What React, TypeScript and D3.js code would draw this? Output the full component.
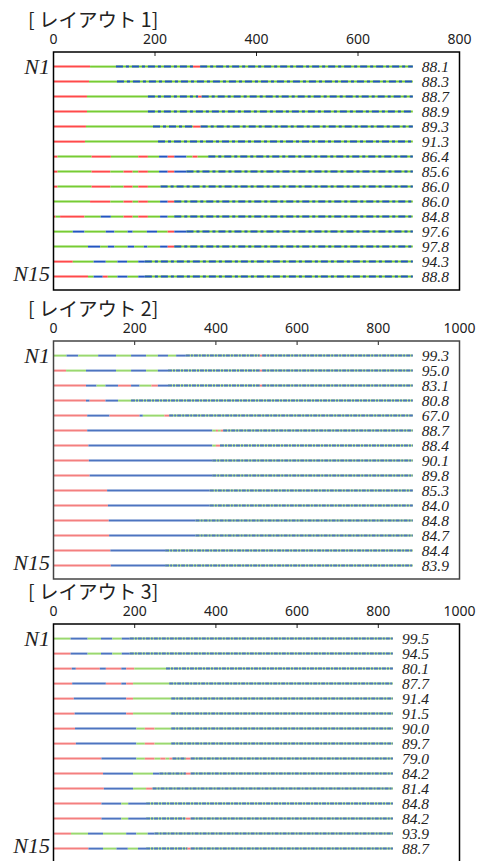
import React from 'react';
import * as d3 from 'd3';

// each row: colour letter + end position (R red, G green, B blue, M mixed green/blue)
const layout1Rows = [
  'R72 G123 M275 R289 M708',
  'R70 G125 M708',
  'R66 G186 M285 R292 M708',
  'R66 G186 M708',
  'R64 G196 M275 R290 M708',
  'R62 G206 M708',
  'R8 G75 R113 G167 R186 G208 B225 R238 B262 G274 R284 G305 M708',
  'R8 G75 R112 G138 R156 G167 R186 G208 B225 R238 B262 M708',
  'R8 G75 R112 G138 R156 G167 R186 G211 M708',
  'G72 R112 G138 R156 G167 R186 G210 B225 R238 M708',
  'R4 G13 R61 G93 B113 G138 R156 G167 R186 G210 B225 G238 M708',
  'G38 B61 G103 B120 G146 B156 G184 B204 G225 R238 B262 M708',
  'G68 B92 G107 B120 G146 B159 G178 B185 G210 B225 R238 M708',
  'R38 G79 B103 G126 B145 G167 B180 M708',
  'R68 G79 B97 R107 G126 B146 G167 B180 M708'
];
const layout1Values = [88.1, 88.3, 88.7, 88.9, 89.3, 91.3, 86.4, 85.6, 86.0, 86.0, 84.8, 97.6, 97.8, 94.3, 88.8];

const layout2Rows = [
  'G32 B61 G110 B154 G191 B228 G257 B282 G302 B326 M508 R514 M885',
  'R31 G80 B154 G191 B228 G257 B282 M508 R514 M885',
  'R80 B106 G128 B159 R191 B212 G241 R257 B282 M508 R514 M885',
  'R80 B89 R128 B159 G191 M885',
  'R83 B138 R212 B220 G273 R285 M885',
  'R83 B391 G400 R405 G412 R418 M885',
  'R86 B391 G400 R410 M885',
  'R87 B391 M885',
  'R89 B391 M885',
  'R132 B385 M885',
  'R134 B385 M885',
  'R136 B350 M885',
  'R137 B350 M885',
  'R140 B275 M885',
  'R141 B275 M885'
];
const layout2Values = [99.3, 95.0, 83.1, 80.8, 67.0, 88.7, 88.4, 90.1, 89.8, 85.3, 84.0, 84.8, 84.7, 84.4, 83.9];

const layout3Rows = [
  'G42 B84 G117 B145 G168 B188 M836',
  'R42 B84 G117 B145 G168 B188 M836',
  'R45 B55 R114 B129 R167 B179 R199 G277 M836',
  'R46 B129 R167 B179 R196 G285 M836',
  'R50 B179 R196 G290 M836',
  'R52 B179 R196 G290 M836',
  'R53 B204 G225 R249 G290 M836',
  'R55 B204 G225 R249 G290 M836',
  'R118 B204 G225 R249 G263 R276 G285 R293 M326 R338 M836',
  'R122 B196 G245 B261 M326 R338 M836',
  'R124 B196 G228 R244 M836',
  'R118 B167 G184 B228 M836',
  'R118 B167 G184 B228 M326 R338 M836',
  'R43 G85 B122 G179 B204 G232 B249 M836',
  'R86 B122 G155 B183 G208 B228 M330 R338 M836'
];
const layout3Values = [99.5, 94.5, 80.1, 87.7, 91.4, 91.5, 90.0, 89.7, 79.0, 84.2, 81.4, 84.8, 84.2, 93.9, 88.7];

const panels = [
  { title: '[ レイアウト 1]', rows: layout1Rows, values: layout1Values, max: 800, ticks: [0, 200, 400, 600, 800], top: 52, border: '#000',
    colors: { R: '#ff4a4a', G: '#77cc33', B: '#2255c0' }, dash: '7,3,3,3' },
  { title: '[ レイアウト 2]', rows: layout2Rows, values: layout2Values, max: 1000, ticks: [0, 200, 400, 600, 800, 1000], top: 341, border: '#444',
    colors: { R: '#f47f7f', G: '#9ad86f', B: '#4d74c0' }, dash: '4,1,2,1' },
  { title: '[ レイアウト 3]', rows: layout3Rows, values: layout3Values, max: 1000, ticks: [0, 200, 400, 600, 800, 1000], top: 624, border: '#000',
    colors: { R: '#f47f7f', G: '#9ad86f', B: '#4d74c0' }, dash: '4,1,2,1' }
];

const parseRow = (s: string) => {
  let start = 0;
  return s.split(' ').map((tok) => {
    const seg = { c: tok[0], x0: start, x1: +tok.slice(1) };
    start = seg.x1;
    return seg;
  });
};

const W = 477;
const H = 861;
const left = 53.5;
const right = 459.5;
const panelH = 238;

function Panel ({ p }: { p: any }) {
  const x = d3.scaleLinear().domain([0, p.max]).range([left, right]);
  const y = d3.scalePoint().domain(d3.range(15).map(String)).range([p.top + 14.6, p.top + 14.6 + 14 * 15]);
  const serif = '"Liberation Serif", "DejaVu Serif", serif';
  return (
    <g>
      <text x={28} y={p.top - 25} fontSize={19.5} fontFamily='"Noto Sans CJK JP", sans-serif' fill='#222'>{p.title}</text>
      {p.ticks.map((t: number) => (
        <g key={t}>
          <text x={x(t)} y={p.top - 8} fontSize={14} textAnchor='middle' fontFamily='"Noto Sans", sans-serif' fill='#222'>{t}</text>
          {t > 0 && t < p.max && <line x1={x(t)} x2={x(t)} y1={p.top} y2={p.top + 4} stroke='#222' strokeWidth={1} />}
        </g>
      ))}
      {p.rows.map((r: string, i: number) => {
        const yy = y(String(i)) as number;
        const segs = parseRow(r);
        const end = segs[segs.length - 1].x1;
        return (
          <g key={i}>
            {segs.map((s, j) => s.c === 'M'
              ? (
                <g key={j}>
                  <line x1={x(s.x0)} x2={x(s.x1)} y1={yy} y2={yy} stroke={p.colors.G} strokeWidth={2} />
                  <line x1={x(s.x0)} x2={x(s.x1)} y1={yy} y2={yy} stroke={p.colors.B} strokeWidth={2} strokeDasharray={p.dash} />
                </g>
                )
              : <line key={j} x1={x(s.x0)} x2={x(s.x1)} y1={yy} y2={yy} stroke={p.colors[s.c]} strokeWidth={2} />)}
            <text x={x(end) + 9} y={yy + 5} fontSize={15.5} fontStyle='italic' fontFamily={serif} fill='#222'>{p.values[i].toFixed(1)}</text>
          </g>
        );
      })}
      <text x={50} y={(y('0') as number) + 7} fontSize={22} fontStyle='italic' fontFamily={serif} textAnchor='end' fill='#222'>N1</text>
      <text x={50} y={(y('14') as number) + 4} fontSize={22} fontStyle='italic' fontFamily={serif} textAnchor='end' fill='#222'>N15</text>
      <rect x={left} y={p.top} width={right - left} height={panelH} fill='none' stroke={p.border} strokeWidth={1.5} />
    </g>
  );
}

export default function App () {
  return (
    <svg width={W} height={H} style={{ position: 'absolute', left: 0, top: 0, background: '#fff' }}>
      {panels.map((p, i) => <Panel key={i} p={p} />)}
    </svg>
  );
}
